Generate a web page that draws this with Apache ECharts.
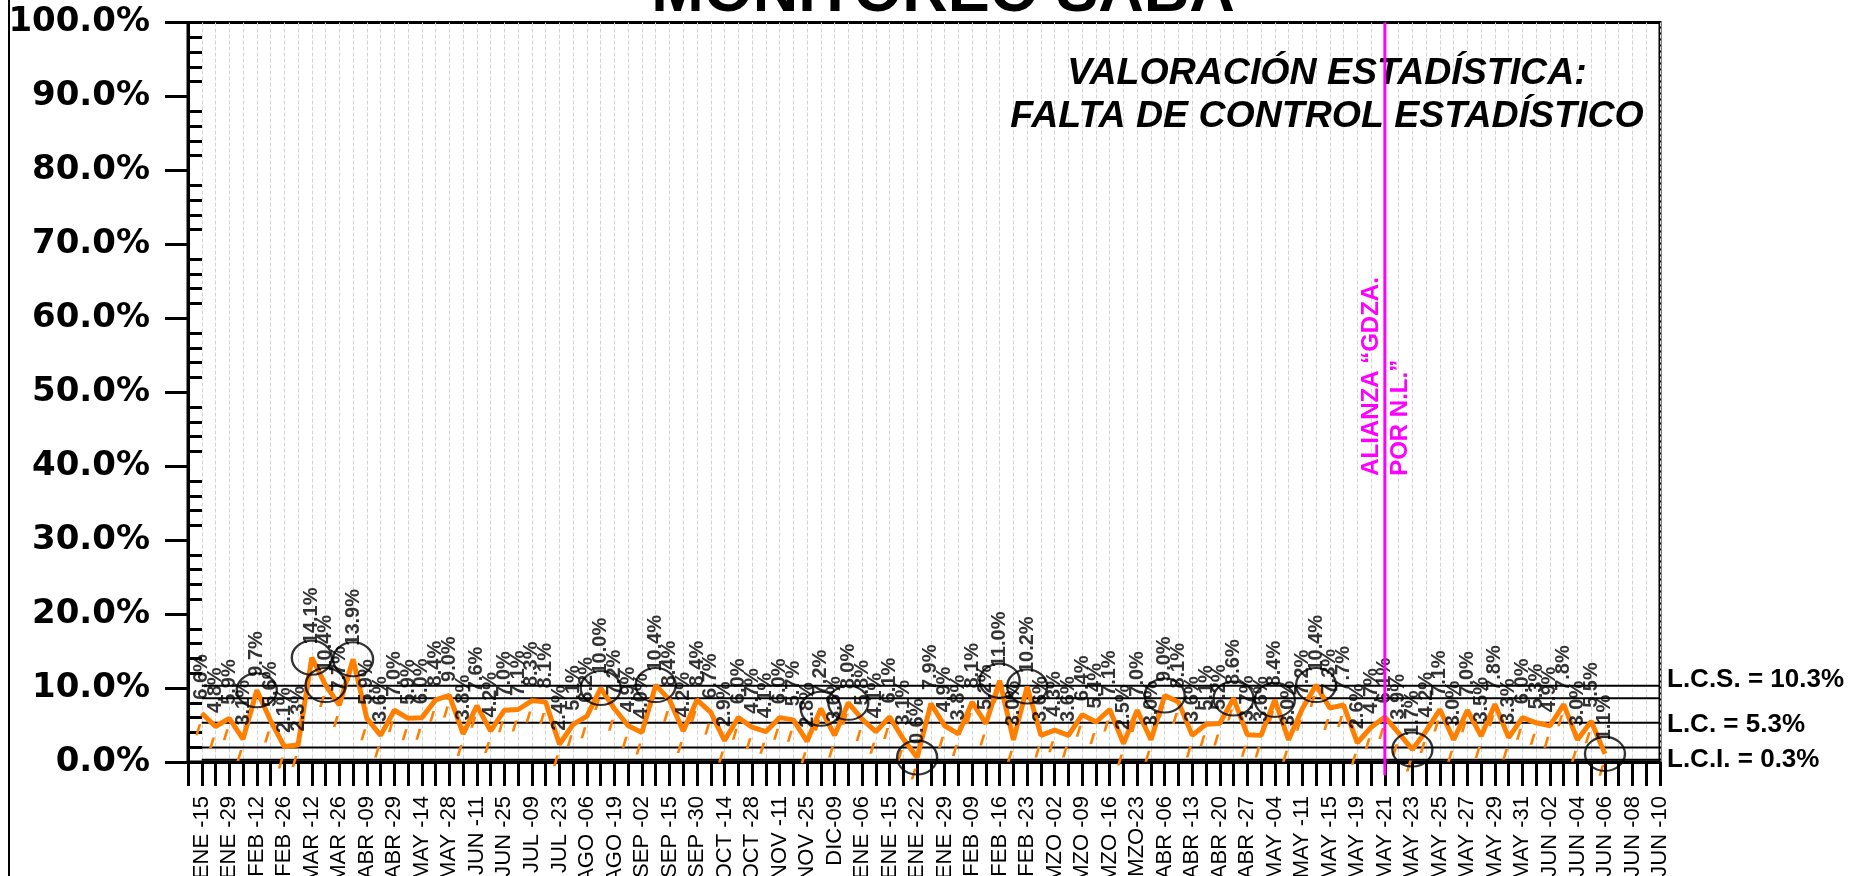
<!DOCTYPE html>
<html>
<head>
<meta charset="utf-8">
<title>Monitoreo SABA</title>
<script src="https://cdn.jsdelivr.net/npm/echarts@6/dist/echarts.min.js"></script>
<style>
  html, body { margin: 0; padding: 0; background: #fff; }
  #chart { width: 1867px; height: 876px; }
</style>
</head>
<body>
<div id="chart"></div>
<script>
// fechas de corte; la primera queda vacia sobre el eje Y
const categories = [
  '', 'ENE -15', 'ENE -22', 'ENE -29', 'FEB -05', 'FEB -12', 'FEB -19', 'FEB -26', 'MAR -05', 'MAR -12',
  'MAR -19', 'MAR -26', 'ABR -02', 'ABR -09', 'ABR -16', 'ABR -29', 'MAY -07', 'MAY -14', 'MAY -21', 'MAY -28',
  'JUN -04', 'JUN -11', 'JUN -18', 'JUN -25', 'JUL -02', 'JUL -09', 'JUL -16', 'JUL -23', 'JUL -30', 'AGO -06',
  'AGO -13', 'AGO -19', 'AGO -26', 'SEP -02', 'SEP -09', 'SEP -15', 'SEP -23', 'SEP -30', 'OCT -07', 'OCT -14',
  'OCT -21', 'OCT -28', 'NOV -04', 'NOV -11', 'NOV -18', 'NOV -25', 'DIC-02', 'DIC-09', 'DIC-16', 'ENE -06',
  'ENE -11', 'ENE -15', 'ENE -18', 'ENE -22', 'ENE -26', 'ENE -29', 'FEB -02', 'FEB -09', 'FEB -12', 'FEB -16',
  'FEB -19', 'FEB -23', 'FEB -26', 'MZO -02', 'MZO -05', 'MZO -09', 'MZO -12', 'MZO -16', 'MZO -19', 'MZO-23',
  'MZO -30', 'ABR -06', 'ABR -09', 'ABR -13', 'ABR -16', 'ABR -20', 'ABR -23', 'ABR -27', 'ABR -30', 'MAY -04',
  'MAY -07', 'MAY -11', 'MAY -13', 'MAY -15', 'MAY -17', 'MAY -19', 'MAY -20', 'MAY -21', 'MAY -22', 'MAY -23',
  'MAY -24', 'MAY -25', 'MAY -26', 'MAY -27', 'MAY -28', 'MAY -29', 'MAY -30', 'MAY -31', 'JUN -01', 'JUN -02',
  'JUN -03', 'JUN -04', 'JUN -05', 'JUN -06', 'JUN -07', 'JUN -08', 'JUN -09', 'JUN -10'
]

// % medido, desde ENE -15 hasta JUN -06
const values = [
  6.6, 4.8, 5.9, 3.1, 9.7, 5.6, 2.1, 2.3, 14.1, 10.4,
  7.7, 13.9, 5.9, 3.6, 7.0, 5.9, 6.0, 8.4, 9.0, 3.8,
  7.6, 4.2, 7.0, 7.1, 8.3, 8.1, 2.4, 5.1, 6.2, 10.0,
  7.2, 4.9, 4.0, 10.4, 8.4, 4.2, 8.4, 6.7, 2.9, 6.0,
  4.7, 4.1, 6.0, 5.7, 2.8, 7.2, 3.6, 8.0, 5.8, 4.1,
  6.1, 3.1, 0.6, 7.9, 4.9, 3.8, 8.1, 5.2, 11.0, 3.0,
  10.2, 3.6, 4.3, 3.6, 6.4, 5.4, 7.1, 2.5, 7.0, 3.0,
  9.0, 8.1, 3.6, 5.1, 5.2, 8.6, 3.7, 3.6, 8.4, 3.0,
  7.2, 10.4, 7.3, 7.7, 2.6, 4.7, 6.1, 3.9, 1.7, 4.2,
  7.1, 3.0, 7.0, 3.5, 7.8, 3.3, 6.0, 5.3, 4.9, 7.8,
  3.0, 5.5, 1.1
]

// puntos marcados con circulo (indice de categoria)
const flagged = [5, 9, 10, 12, 30, 34, 46, 48, 53, 59, 61, 71, 76, 79, 82, 89, 103]

// limites de control: LCS, +2s, LC, -2s, LCI
const limitNames = ['L.C.S.', '', 'L.C.', '', 'L.C.I.']
const limitValues = [10.3, 8.63, 5.3, 1.97, 0.3]

const allianceDate = 'MAY -21'
const allianceText = 'ALIANZA “GDZA.\nPOR N.L.”'

const ORANGE = '#ff8000'
const FONT = '"Liberation Sans", Arial, sans-serif'

const chart = echarts.init(document.getElementById('chart'))

const lineData = categories.map((c, i) => (i >= 1 && i <= values.length ? values[i - 1] : null))
const labelOffsets = [[0, -6], null, [0, 2], null, [0, 0]]

const limitSeries = limitValues.map((v, k) => ({
  type: 'line',
  name: limitNames[k] || ('sigma' + k),
  data: categories.map((c, i) => (i === 0 ? null : v)),
  symbol: 'none',
  silent: true,
  z: 2,
  lineStyle: { color: '#000', width: 2 },
  endLabel: {
    show: !!limitNames[k],
    formatter: limitNames[k] + ' = ' + v.toFixed(1) + '%',
    color: '#000',
    fontFamily: FONT,
    fontWeight: 'bold',
    fontSize: 26,
    distance: 7,
    offset: labelOffsets[k] || [0, 0]
  }
}))

chart.setOption({
  animation: false,
  backgroundColor: '#fff',
  grid: {
    left: 188,
    right: 207,
    top: 22.5,
    bottom: 114,
    show: true,
    borderColor: '#000',
    borderWidth: 3,
    containLabel: false,
    outerBoundsMode: 'none'
  },
  xAxis: {
    type: 'category',
    data: categories,
    boundaryGap: false,
    axisLine: { lineStyle: { color: '#000', width: 3 } },
    axisTick: { show: true, interval: 0, length: 24, lineStyle: { color: '#000', width: 3 } },
    axisLabel: {
      interval: (idx) => idx % 2 === 1,
      rotate: 90,
      margin: 34,
      color: '#000',
      fontFamily: FONT,
      fontSize: 22
    },
    splitLine: { show: true, interval: 0, lineStyle: { color: '#d4d4d4', width: 1, type: [4, 2] } }
  },
  yAxis: [
    {
      type: 'value',
      min: 0,
      max: 100,
      interval: 10,
      position: 'left',
      axisLine: { show: true, lineStyle: { color: '#000', width: 3 } },
      axisTick: { show: true, length: 23, lineStyle: { color: '#000', width: 3 } },
      axisLabel: {
        formatter: (v) => v.toFixed(1) + '%',
        margin: 38,
        color: '#000',
        fontFamily: '"DejaVu Sans", sans-serif',
        fontWeight: 'bold',
        fontSize: 34
      },
      splitLine: { show: false }
    },
    {
      // marcas menores hacia adentro
      type: 'value',
      min: 0,
      max: 100,
      interval: 10,
      position: 'left',
      axisLine: { show: false },
      axisTick: { show: false, inside: true },
      minorTick: { show: true, splitNumber: 5, length: 14, lineStyle: { color: '#000', width: 3 } },
      axisLabel: { show: false },
      splitLine: { show: false }
    }
  ],
  series: limitSeries.concat([
    {
      type: 'line',
      name: 'SABA',
      data: lineData,
      z: 3,
      showAllSymbol: true,
      symbol: 'path://M3,0 L5.5,0 L2.5,11 L0,11 Z',
      symbolSize: [6, 11],
      symbolOffset: [-3.5, 16.5],
      itemStyle: { color: ORANGE },
      lineStyle: { color: ORANGE, width: 5 },
      silent: true
    },
    {
      // etiquetas de valor
      type: 'scatter',
      data: values.map((v, i) => [i + 1, v]),
      symbolSize: 1,
      itemStyle: { color: 'rgba(0,0,0,0)' },
      silent: true,
      z: 4,
      label: {
        show: true,
        position: 'top',
        distance: 13,
        rotate: 90,
        align: 'left',
        verticalAlign: 'middle',
        formatter: (p) => p.value[1].toFixed(1) + '%',
        color: '#000',
        fontFamily: FONT,
        fontWeight: 'bold',
        fontSize: 20
      }
    },
    {
      type: 'scatter',
      data: flagged.map((i) => [i, values[i - 1]]),
      symbol: 'circle',
      symbolSize: [40, 34],
      itemStyle: { color: 'rgba(0,0,0,0)', borderColor: '#000', borderWidth: 2.2 },
      silent: true,
      z: 5
    }
  ])
})

// linea de la alianza, a partir de la escala del eje
const allianceIndex = categories.lastIndexOf(allianceDate)
const mainSeries = limitSeries.length
const lineTop = chart.convertToPixel({ seriesIndex: mainSeries }, [allianceIndex, 100])
const lineBottom = chart.convertToPixel({ seriesIndex: mainSeries }, [allianceIndex, -1.8])
const textPos = chart.convertToPixel({ seriesIndex: mainSeries }, [allianceIndex, 38.7])

chart.setOption({
  graphic: [
    {
      type: 'line',
      shape: { x1: 9, y1: 0, x2: 9, y2: 876 },
      style: { stroke: '#000', lineWidth: 2 }
    },
    {
      type: 'text',
      x: 943,
      y: -6,
      style: {
        text: 'MONITOREO SABA',
        fill: '#000',
        fontFamily: FONT,
        fontWeight: 'bold',
        fontSize: 63,
        align: 'center',
        verticalAlign: 'middle'
      }
    },
    {
      type: 'text',
      x: 1327,
      y: 95,
      style: {
        text: 'VALORACIÓN ESTADÍSTICA:\nFALTA DE CONTROL ESTADÍSTICO',
        fill: '#000',
        fontFamily: FONT,
        fontWeight: 'bold',
        fontStyle: 'italic',
        fontSize: 37.5,
        lineHeight: 43,
        align: 'center',
        verticalAlign: 'middle'
      }
    },
    {
      type: 'line',
      z: 10,
      shape: { x1: lineTop[0], y1: lineTop[1], x2: lineBottom[0], y2: lineBottom[1] },
      style: { stroke: '#ff00ff', lineWidth: 3 }
    },
    {
      type: 'text',
      z: 10,
      x: textPos[0] + 1.5,
      y: textPos[1],
      rotation: Math.PI / 2,
      style: {
        text: allianceText,
        fill: '#ff00ff',
        fontFamily: FONT,
        fontWeight: 'bold',
        fontSize: 24,
        lineHeight: 29,
        align: 'left',
        verticalAlign: 'middle'
      }
    }
  ]
})
</script>
</body>
</html>
